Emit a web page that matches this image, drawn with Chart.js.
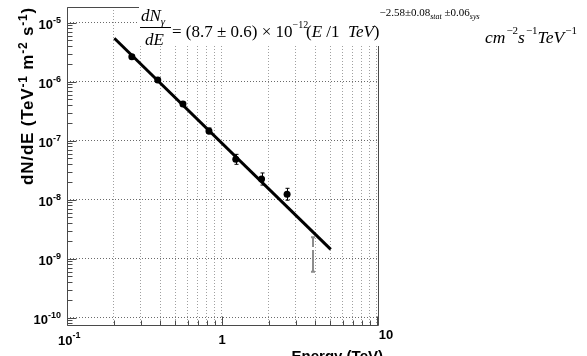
<!DOCTYPE html>
<html>
<head>
<meta charset="utf-8">
<title>dN/dE spectrum</title>
<script src="https://cdn.jsdelivr.net/npm/chart.js@4.4.0/dist/chart.umd.min.js"></script>
<style>
  html, body { margin: 0; padding: 0; background: #fff; }
  #c { display: block; }
</style>
</head>
<body>
<canvas id="c" width="587" height="356"></canvas>
<script>
// measured spectrum points (TeV, TeV^-1 m^-2 s^-1)
var energy   = [0.262, 0.385, 0.56, 0.824, 1.227, 1.80, 2.63];
var flux     = [2.65e-6, 1.07e-6, 4.19e-7, 1.46e-7, 4.84e-8, 2.24e-8, 1.24e-8];
var fluxLow  = [2.45e-6, 9.9e-7, 3.87e-7, 1.30e-7, 3.98e-8, 1.77e-8, 9.8e-9];
var fluxHigh = [2.87e-6, 1.16e-6, 4.53e-7, 1.64e-7, 5.87e-8, 2.84e-8, 1.56e-8];

// last bin (grey bar, no marker)
var lastE    = [3.85];
var lastFlux = [1.49e-9];
var lastLow  = [6.0e-10];
var lastHigh = [2.31e-9];

// power law fit line, end points
var fitE    = [0.202, 5.03];
var fitFlux = [5.44e-6, 1.44e-9];

// axes
var xMin = 0.1, xMax = 10.15;
var yMin = 7.52e-11, yMax = 1.845e-5;
var xGrid = [0.1, 0.2, 0.3, 0.4, 0.5, 0.6, 0.7, 0.8, 0.9, 1, 2, 3, 4, 5, 6, 7, 8, 9, 10];
var xMajor = [0.1, 1, 10];
var yDecades = [1e-10, 1e-9, 1e-8, 1e-7, 1e-6, 1e-5];
var yExp = ['-10', '-9', '-8', '-7', '-6', '-5'];
var minorMult = [2, 3, 4, 5, 6, 7, 8, 9];
var yMinorDecades = [1e-11, 1e-10, 1e-9, 1e-8, 1e-7, 1e-6, 1e-5];

var SANS = '"Liberation Sans", Arial, sans-serif';
var SERIF = '"Liberation Serif", "Times New Roman", serif';

function pts(xs, ys) {
  return xs.map(function (v, i) { return {x: v, y: ys[i]}; });
}

function seg(ctx, text, font, x, y) {
  ctx.font = font;
  ctx.fillText(text, x, y);
  return x + ctx.measureText(text).width;
}

var rootPlugin = {
  id: 'rootStyle',
  beforeDatasetsDraw: function (chart) {
    var ctx = chart.ctx, xs = chart.scales.x, ys = chart.scales.y;
    ctx.save();
    // error bars of the measured points
    ctx.strokeStyle = '#000';
    ctx.lineWidth = 1;
    energy.forEach(function (e, i) {
      var px = Math.round(xs.getPixelForValue(e)) + 0.5;
      var a = ys.getPixelForValue(fluxHigh[i]);
      var b = ys.getPixelForValue(fluxLow[i]);
      ctx.beginPath();
      ctx.moveTo(px, a); ctx.lineTo(px, b);
      ctx.moveTo(px - 2, a); ctx.lineTo(px + 2, a);
      ctx.moveTo(px - 2, b); ctx.lineTo(px + 2, b);
      ctx.stroke();
    });
    // grey last bin
    ctx.strokeStyle = '#8c8c8c';
    ctx.lineWidth = 2;
    lastE.forEach(function (e, i) {
      var px = Math.round(xs.getPixelForValue(e));
      var a = ys.getPixelForValue(lastHigh[i]);
      var b = ys.getPixelForValue(lastLow[i]);
      var c = ys.getPixelForValue(lastFlux[i]);
      ctx.beginPath();
      ctx.moveTo(px, a); ctx.lineTo(px, c - 1.5);
      ctx.moveTo(px, c + 1.5); ctx.lineTo(px, b);
      ctx.moveTo(px - 2, a); ctx.lineTo(px + 2, a);
      ctx.moveTo(px - 2, b); ctx.lineTo(px + 2, b);
      ctx.stroke();
    });
    ctx.restore();
  },
  afterDatasetsDraw: function (chart) {
    var ctx = chart.ctx, xs = chart.scales.x, ys = chart.scales.y;
    var a = chart.chartArea;
    var L = Math.round(a.left) + 0.5, R = Math.round(a.right) + 0.5;
    var T = Math.round(a.top) + 0.5, B = Math.round(a.bottom) + 0.5;
    ctx.save();
    ctx.strokeStyle = '#4a4a4a';
    ctx.lineWidth = 1;
    ctx.beginPath();
    ctx.rect(L, T, R - L, B - T);
    ctx.stroke();

    // y ticks, inward from the left axis
    ctx.beginPath();
    yMinorDecades.forEach(function (d) {
      minorMult.concat([1]).forEach(function (m) {
        var v = d * m;
        if (v < yMin || v > yMax) return;
        var py = Math.round(ys.getPixelForValue(v)) + 0.5;
        var len = m === 1 ? 9 : 5;
        ctx.moveTo(L, py); ctx.lineTo(L + len, py);
      });
    });
    // x ticks, up from the bottom axis
    xGrid.forEach(function (v) {
      var px = Math.round(xs.getPixelForValue(v)) + 0.5;
      var len = xMajor.indexOf(v) >= 0 ? 9 : 5;
      ctx.moveTo(px, B); ctx.lineTo(px, B - len);
    });
    ctx.stroke();

    // white box behind the formula
    ctx.fillStyle = '#fff';
    ctx.fillRect(139, 0, 587 - 139, 46);
    ctx.restore();
  },
  afterDraw: function (chart) {
    var ctx = chart.ctx, xs = chart.scales.x, ys = chart.scales.y;
    ctx.save();
    ctx.fillStyle = '#000';
    ctx.textAlign = 'left';
    ctx.textBaseline = 'alphabetic';

    // y tick labels 10^n
    yDecades.forEach(function (v, i) {
      var py = ys.getPixelForValue(v);
      ctx.font = 'bold 9px ' + SANS;
      var we = ctx.measureText(yExp[i]).width;
      ctx.font = 'bold 13px ' + SANS;
      var wb = ctx.measureText('10').width;
      var x0 = 61 - we - wb;
      var x1 = seg(ctx, '10', 'bold 13px ' + SANS, x0, py + 6);
      seg(ctx, yExp[i], 'bold 9px ' + SANS, x1, py + 0.5);
    });

    // x tick labels
    var p01 = xs.getPixelForValue(0.1);
    var x1 = seg(ctx, '10', 'bold 13px ' + SANS, p01 - 9, 345);
    seg(ctx, '-1', 'bold 9px ' + SANS, x1, 338);
    ctx.textAlign = 'center';
    seg(ctx, '1', 'bold 13px ' + SANS, xs.getPixelForValue(1), 344);
    seg(ctx, '10', 'bold 13px ' + SANS, xs.getPixelForValue(10) + 9, 339);

    // axis titles
    ctx.textAlign = 'right';
    seg(ctx, 'Energy (TeV)', 'bold 15px ' + SANS, 383, 361);
    ctx.textAlign = 'left';

    var parts = [
      ['dN/dE (TeV', 0], ['-1', 1], [' m', 0], ['-2', 1], [' s', 0], ['-1', 1], [')', 0]
    ];
    var big = 'bold 17px ' + SANS, small = 'bold 12px ' + SANS;
    ctx.letterSpacing = '0.8px';
    var W = 0;
    parts.forEach(function (p) { ctx.font = p[1] ? small : big; W += ctx.measureText(p[0]).width; });
    ctx.translate(33, ys.top);
    ctx.rotate(-Math.PI / 2);
    var cx = -W;
    parts.forEach(function (p) {
      cx = seg(ctx, p[0], p[1] ? small : big, cx, p[1] ? -6 : 0);
    });
    ctx.setTransform(1, 0, 0, 1, 0, 0);
    ctx.letterSpacing = '0px';

    // fit formula
    var it = 'italic 17px ' + SERIF, rm = '17px ' + SERIF;
    var sup = '11px ' + SERIF, tiny = 'italic 8px ' + SERIF;
    var fx = seg(ctx, 'dN', it, 141, 21);
    seg(ctx, 'γ', 'italic 11px ' + SERIF, fx, 25);
    ctx.fillRect(140, 27, 31, 1);
    seg(ctx, 'dE', it, 145, 45);

    var x = seg(ctx, '= (8.7 ± 0.6) × 10', rm, 172, 37);
    seg(ctx, '−12', '10px ' + SERIF, x, 28);
    x = seg(ctx, '(', rm, 306, 37);
    x = seg(ctx, 'E', it, x, 37);
    x = seg(ctx, ' /1  ', rm, x, 37);
    x = seg(ctx, 'TeV', it, x, 37);
    x = seg(ctx, ')', rm, x, 37);
    x = seg(ctx, '−2.58±0.08', sup, x, 16);
    x = seg(ctx, 'stat', tiny, x, 19);
    x = seg(ctx, ' ±0.06', sup, x, 16);
    seg(ctx, 'sys', tiny, x, 19);

    var u = 'italic 17.5px ' + SERIF, us = '11px ' + SERIF;
    x = seg(ctx, 'cm', u, 485, 43);
    x = seg(ctx, '−2', us, x + 1, 34);
    x = seg(ctx, 's', u, x, 43);
    x = seg(ctx, '−1', us, x + 1, 34);
    x = seg(ctx, 'TeV', u, x, 43);
    seg(ctx, '−1', us, x + 1, 34);
    ctx.restore();
  }
};

new Chart(document.getElementById('c'), {
  type: 'scatter',
  data: {
    datasets: [
      {
        data: pts(energy, flux),
        pointRadius: 3.5,
        pointBorderWidth: 0,
        backgroundColor: '#000',
        borderColor: '#000',
        order: 1
      },
      {
        data: pts(fitE, fitFlux),
        showLine: true,
        borderColor: '#000',
        borderWidth: 3,
        pointRadius: 0,
        order: 2
      }
    ]
  },
  options: {
    responsive: false,
    animation: false,
    devicePixelRatio: 1,
    layout: { padding: { left: 67, right: 209, top: 7, bottom: 31 } },
    plugins: { legend: { display: false }, tooltip: { enabled: false } },
    scales: {
      x: {
        type: 'logarithmic', min: xMin, max: xMax,
        ticks: { display: false },
        border: { display: false, dash: [1, 2] },
        grid: { color: '#a0a0a0', lineWidth: 1, drawTicks: false },
        afterBuildTicks: function (s) { s.ticks = xGrid.map(function (v) { return {value: v}; }); },
        afterFit: function (s) { s.height = 0; }
      },
      y: {
        type: 'logarithmic', min: yMin, max: yMax,
        ticks: { display: false },
        border: { display: false, dash: [1, 2] },
        grid: { color: '#6a6a6a', lineWidth: 1, drawTicks: false },
        afterBuildTicks: function (s) { s.ticks = yDecades.map(function (v) { return {value: v}; }); },
        afterFit: function (s) { s.width = 0; }
      }
    }
  },
  plugins: [rootPlugin]
});
</script>
</body>
</html>
